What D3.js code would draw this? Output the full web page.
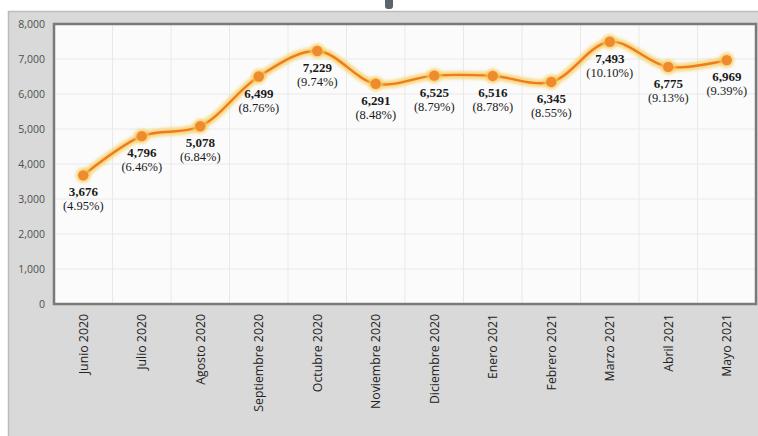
<!DOCTYPE html>
<html>
<head>
<meta charset="utf-8">
<script src="https://cdn.jsdelivr.net/npm/d3@7"></script>
<style>
  body { margin: 0; background: #ffffff; }
  svg { display: block; }
</style>
</head>
<body>
<div id="chart"></div>
<script>
// data
var months = ["Junio 2020", "Julio 2020", "Agosto 2020", "Septiembre 2020", "Octubre 2020", "Noviembre 2020",
    "Diciembre 2020", "Enero 2021", "Febrero 2021", "Marzo 2021", "Abril 2021", "Mayo 2021"];
var values = [3676, 4796, 5078, 6499, 7229, 6291, 6525, 6516, 6345, 7493, 6775, 6969];
var shares = ["4.95%", "6.46%", "6.84%", "8.76%", "9.74%", "8.48%", "8.79%", "8.78%", "8.55%", "10.10%", "9.13%", "9.39%"];
var yTicks = [0, 1000, 2000, 3000, 4000, 5000, 6000, 7000, 8000];

var svgWidth = 758;
var svgHeight = 436;
var margin = { top: 24, right: 2, bottom: 132, left: 54 };
var width = svgWidth - margin.left - margin.right;
var height = svgHeight - margin.top - margin.bottom;

var svg = d3.select("#chart").append("svg")
    .attr("width", svgWidth)
    .attr("height", svgHeight);

// glow filter for the line
var defs = svg.append("defs");
var glow = defs.append("filter").attr("id", "glow")
    .attr("x", "-10%").attr("y", "-30%").attr("width", "120%").attr("height", "160%");
glow.append("feGaussianBlur").attr("stdDeviation", 1.8);

// outer panel and the little tab on top
svg.append("rect")
    .attr("x", 8.5).attr("y", 11.5)
    .attr("width", svgWidth).attr("height", svgHeight)
    .attr("fill", "#d9d9d9")
    .attr("stroke", "#bcbcbc")
    .attr("stroke-width", 1.5);
svg.append("rect")
    .attr("x", 385).attr("y", -4)
    .attr("width", 8).attr("height", 13)
    .attr("rx", 3)
    .attr("fill", "#5b636d");

var chartGroup = svg.append("g")
    .attr("transform", `translate(${margin.left}, ${margin.top})`);

// scales
var xScale = d3.scaleBand().domain(months).range([0, width]);
var yScale = d3.scaleLinear().domain([0, 8000]).range([height, 0]);

// plot background
chartGroup.append("rect")
    .attr("width", width).attr("height", height)
    .attr("fill", "#fbfbfb");

// gridlines
chartGroup.append("g")
    .selectAll("line")
    .data(yTicks)
    .enter()
    .append("line")
    .attr("x1", 0).attr("x2", width)
    .attr("y1", d => yScale(d)).attr("y2", d => yScale(d))
    .attr("stroke", "#e9e9e9");

chartGroup.append("g")
    .selectAll("line")
    .data(months.slice(1))
    .enter()
    .append("line")
    .attr("x1", d => xScale(d)).attr("x2", d => xScale(d))
    .attr("y1", 0).attr("y2", height)
    .attr("stroke", "#e9e9e9");

// border of the plot area
chartGroup.append("rect")
    .attr("width", width).attr("height", height)
    .attr("fill", "none")
    .attr("stroke", "#7a7a7a")
    .attr("stroke-width", 2.5);

// axes
var leftAxis = d3.axisLeft(yScale)
    .tickValues(yTicks)
    .tickSize(0)
    .tickPadding(9)
    .tickFormat(d3.format(","));

var yAxisGroup = chartGroup.append("g").call(leftAxis);
yAxisGroup.select(".domain").remove();
yAxisGroup.selectAll("text")
    .style("font-family", "'Open Sans', sans-serif")
    .style("font-size", "10.5px")
    .attr("fill", "#505050");

var bottomAxis = d3.axisBottom(xScale).tickSize(0);
var xAxisGroup = chartGroup.append("g")
    .attr("transform", `translate(0, ${height})`)
    .call(bottomAxis);
xAxisGroup.select(".domain").remove();
xAxisGroup.selectAll("text")
    .attr("transform", "rotate(-90)")
    .attr("x", -10)
    .attr("y", 0)
    .attr("dy", "0.35em")
    .style("text-anchor", "end")
    .style("font-family", "'Open Sans', sans-serif")
    .style("font-size", "12.3px")
    .attr("fill", "#222222");

// the smoothed line with its glow
var cx = d => xScale(d.month) + xScale.bandwidth() / 2;
var points = months.map((m, i) => ({ month: m, value: values[i], share: shares[i] }));

var line = d3.line()
    .x(cx)
    .y(d => yScale(d.value))
    .curve(d3.curveCatmullRom.alpha(0.5));

chartGroup.append("path")
    .datum(points)
    .attr("d", line)
    .attr("fill", "none")
    .attr("stroke", "#f6cf62")
    .attr("stroke-width", 8)
    .attr("opacity", 0.8)
    .attr("filter", "url(#glow)");

chartGroup.append("path")
    .datum(points)
    .attr("d", line)
    .attr("fill", "none")
    .attr("stroke", "#ef7b1f")
    .attr("stroke-width", 2.4);

chartGroup.selectAll(".halo")
    .data(points)
    .enter()
    .append("circle")
    .attr("cx", cx)
    .attr("cy", d => yScale(d.value))
    .attr("r", 7.5)
    .attr("fill", "#f6cf62")
    .attr("opacity", 0.8)
    .attr("filter", "url(#glow)");

chartGroup.selectAll(".dot")
    .data(points)
    .enter()
    .append("circle")
    .attr("cx", cx)
    .attr("cy", d => yScale(d.value))
    .attr("r", 5.2)
    .attr("fill", "#ef8a2e");

// data labels
var labels = chartGroup.append("g")
    .selectAll("text")
    .data(points)
    .enter()
    .append("text")
    .attr("text-anchor", "middle")
    .style("font-family", "'Liberation Serif', 'DejaVu Serif', serif")
    .attr("fill", "#1a1a1a");

labels.append("tspan")
    .attr("x", cx)
    .attr("y", d => yScale(d.value) + 21)
    .style("font-weight", "bold")
    .style("font-size", "13px")
    .text(d => d3.format(",")(d.value));

labels.append("tspan")
    .attr("x", cx)
    .attr("y", d => yScale(d.value) + 35)
    .style("font-size", "12.5px")
    .text(d => "(" + d.share + ")");
</script>
</body>
</html>
